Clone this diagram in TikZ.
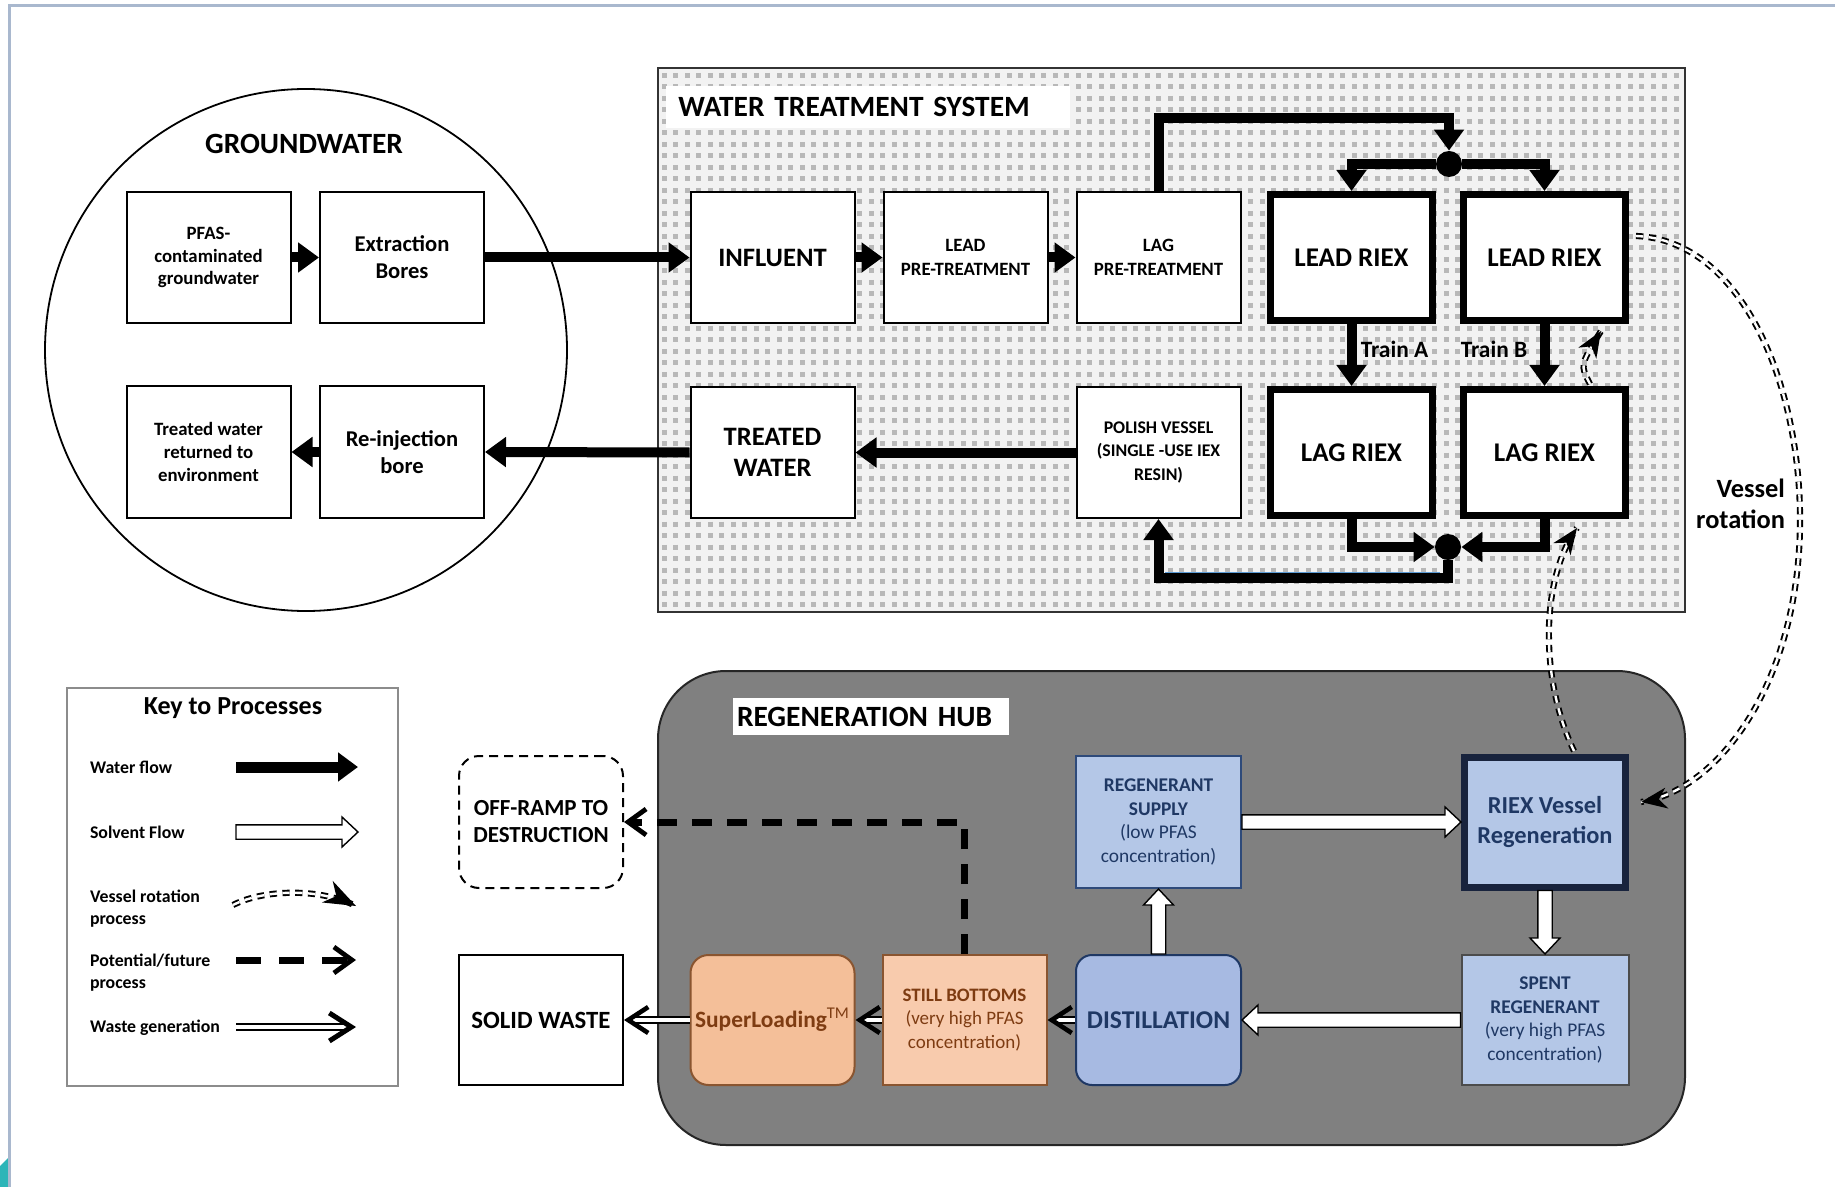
\documentclass[tikz,border=0pt]{standalone}
\usepackage{fontspec}
\setmainfont{Carlito}
\usetikzlibrary{arrows.meta,calc}
\definecolor{framec}{HTML}{A9B8CE}
\definecolor{tealc}{HTML}{2DB5B8}
\definecolor{hubgray}{HTML}{808080}
\definecolor{lblue}{HTML}{B4C7E7}
\definecolor{dblue}{HTML}{A7BAE2}
\definecolor{navy}{HTML}{1F3864}
\definecolor{regb}{HTML}{2E4A7A}
\definecolor{riexb}{HTML}{18233D}
\definecolor{peach}{HTML}{F8CBAD}
\definecolor{orng}{HTML}{F4BF99}
\definecolor{brwn}{HTML}{7E3C12}
\definecolor{brwnb}{HTML}{8A5530}
\definecolor{wtsbg}{HTML}{F2F2F2}
\definecolor{gridc}{HTML}{B8B8B8}
\definecolor{pipeblue}{HTML}{5B9BD5}
\newcommand\fsz[2]{\fontsize{#1}{#2}\selectfont}
\def\solsh{3.6pt}
\def\solhl{8pt}
\def\solhw{7.5pt}
\tikzset{
  box/.style={draw=black, line width=1pt, fill=white, minimum width=82pt, minimum height=65.5pt, inner sep=1pt, align=center, font=\bfseries},
  riexbox/.style={box, line width=3.5pt, minimum width=81pt, minimum height=63pt, font=\bfseries\fsz{13.5}{15}},
  dot/.style={circle, fill=black, minimum size=13pt, inner sep=0pt},
  water/.style={line width=5pt, -{Triangle[length=10.5pt,width=14.5pt]}},
  waste/.style={double, double distance=1.6pt, line width=1pt, -{Straight Barb[length=10pt,width=13pt,line width=2.3pt]}},
  future/.style={line width=3.5pt, dash pattern=on 10pt off 7.5pt, -{Straight Barb[length=9pt,width=13pt,line width=2.4pt]}},
  rotline/.style={double, double distance=1.2pt, line width=0.95pt, dash pattern=on 3.6pt off 2.8pt},
  rottip/.style={line width=0.8pt, -{Stealth[length=13pt,width=10.5pt,inset=4pt]}},
  solvent/.style={draw=black, fill=white, line width=0.7pt, line join=miter,
    to path={let \p1=(\tikztostart), \p2=(\tikztotarget),
      \n1={veclen(\x2-\x1,\y2-\y1)}, \n2={(\x2-\x1)/\n1}, \n3={(\y2-\y1)/\n1} in
      ({\x1-\solsh*(\n3)},{\y1+\solsh*(\n2)})
      -- ({\x2-\solhl*(\n2)-\solsh*(\n3)},{\y2-\solhl*(\n3)+\solsh*(\n2)})
      -- ({\x2-\solhl*(\n2)-\solhw*(\n3)},{\y2-\solhl*(\n3)+\solhw*(\n2)})
      -- (\p2)
      -- ({\x2-\solhl*(\n2)+\solhw*(\n3)},{\y2-\solhl*(\n3)-\solhw*(\n2)})
      -- ({\x2-\solhl*(\n2)+\solsh*(\n3)},{\y2-\solhl*(\n3)-\solsh*(\n2)})
      -- ({\x1+\solsh*(\n3)},{\y1-\solsh*(\n2)}) -- cycle}},
  lbl/.style={anchor=west, align=left, font=\bfseries\fsz{8.9}{11}},
}
\begin{document}
\begin{tikzpicture}[x=0.5pt,y=-0.5pt]
\useasboundingbox (0,0) rectangle (1835,1187);
% outer frame lines
\fill[tealc] (0,1166) -- (8,1158) -- (8,1187) -- (0,1187) -- cycle;
\draw[framec, line width=1.2pt] (9.5,1187) -- (9.5,5.5) -- (1835,5.5);

% ---------------- groundwater
\node[circle, draw=black, line width=0.9pt, minimum size=261pt, inner sep=0pt] (gw) at (306,350) {};
\node[font=\bfseries\fsz{14.7}{16}] (gwtitle) at (304,144) {GROUNDWATER};
\node[box, font=\bfseries\fsz{9.4}{11.4}] (pfas) at (208.5,257.5) {PFAS-\\contaminated\\groundwater};
\node[box, font=\bfseries\fsz{11.3}{13.5}] (extr) at (402,257.5) {Extraction\\Bores};
\node[box, font=\bfseries\fsz{9.4}{11.4}] (tenv) at (208.5,452) {Treated water\\returned to\\environment};
\node[box, font=\bfseries\fsz{11.3}{13.5}] (reinj) at (402,452) {Re-injection\\bore};

% ---------------- water treatment system
\fill[wtsbg] (658,68) rectangle (1685,612);
\foreach \gx in {664,675.5,...,1680}
  \draw[gridc, line width=2.5pt, dash pattern=on 2.5pt off 3.25pt] (\gx,73) -- (\gx,609);
\draw[black!80, line width=1pt] (658,68) rectangle (1685,612);
\node[fill=white, anchor=west, text width=190pt, align=left, minimum height=21pt, inner xsep=6pt, font=\bfseries\fsz{14.7}{16}] (wtstitle) at (666,107) {WATER TREATMENT SYSTEM};

\node[box, font=\bfseries\fsz{13.3}{15.8}] (influent) at (772.5,257.5) {INFLUENT};
\node[box, font=\bfseries\fsz{9.4}{11.7}] (leadpre) at (965.5,257.5) {LEAD\\PRE-TREATMENT};
\node[box, font=\bfseries\fsz{9.4}{11.7}] (lagpre) at (1158.5,257.5) {LAG\\PRE-TREATMENT};
\node[riexbox] (leadA) at (1351.5,257.5) {LEAD RIEX};
\node[riexbox] (leadB) at (1544.5,257.5) {LEAD RIEX};
\node[riexbox] (lagA) at (1351.5,452.5) {LAG RIEX};
\node[riexbox] (lagB) at (1544.5,452.5) {LAG RIEX};
\node[box, font=\bfseries\fsz{13.3}{15.8}] (treated) at (772.5,452.5) {TREATED\\WATER};
\node[box, font=\bfseries\fsz{8.9}{11.7}] (polish) at (1158.5,452.5) {POLISH VESSEL\\(SINGLE -USE IEX\\RESIN)};
\node[dot] (dot1) at (1449,164) {};
\node[dot] (dot2) at (1448,547) {};
\node[font=\bfseries\fsz{11.7}{13}] (trainA) at (1394.5,349) {Train A};
\node[font=\bfseries\fsz{11.7}{13}] (trainB) at (1494,349) {Train B};
\coordinate (c1) at (1449,118);
\coordinate (c2) at (1448,578);
\coordinate (bl1) at (1165,572.5);
\coordinate (bl2) at (1440,572.5);

% water flow arrows
\draw[water] (pfas.east) -- (extr.west);
\draw[water] (extr.east) -- (influent.west);
\draw[water] (influent.east) -- (leadpre.west);
\draw[water] (leadpre.east) -- (lagpre.west);
\draw[water] (lagpre.north) |- (c1) -- (dot1);
\draw[water] (dot1) -| (leadA.north);
\draw[water] (dot1) -| (leadB.north);
\draw[water] (leadA) -- (lagA);
\draw[water] (leadB) -- (lagB);
\draw[water] (lagA.south) |- (dot2);
\draw[water] (lagB.south) |- (dot2);
\draw[water] (dot2.south) -- (c2) -| (polish.south);
\draw[pipeblue, line width=0.7pt] (bl1) -- (bl2);
\draw[water] (polish.west) -- (treated.east);
\draw[water] (treated.west) -- (reinj.east);
\draw[water] (reinj.west) -- (tenv.east);

% ---------------- regeneration hub
\draw[black!85, line width=1pt, fill=hubgray, rounded corners=34pt] (658,671) rectangle (1685,1145);
\node[fill=white, text width=134pt, inner xsep=2pt, minimum height=18.5pt, align=left, font=\bfseries\fsz{14.7}{16}] (hubtitle) at (871,716.5) {REGENERATION HUB};

\node[draw=regb, line width=1pt, fill=lblue, minimum width=82.5pt, minimum height=66pt, inner sep=1pt, align=center, text=navy, font=\fsz{9.7}{11.7}] (supply) at (1158.5,822) {\textbf{REGENERANT}\\\textbf{SUPPLY}\\(low PFAS\\concentration)};
\node[draw=riexb, line width=3.5pt, fill=lblue, minimum width=80.5pt, minimum height=65pt, inner sep=1pt, align=center, text=navy, font=\bfseries\fsz{12.2}{15}] (riexregen) at (1545,822) {RIEX Vessel\\Regeneration};
\node[draw=black!70, line width=1pt, fill=lblue, minimum width=83.5pt, minimum height=65pt, inner sep=1pt, align=center, text=navy, font=\fsz{9.7}{11.7}] (spent) at (1545,1020) {\textbf{SPENT}\\\textbf{REGENERANT}\\(very high PFAS\\concentration)};
\node[draw=navy, line width=1pt, fill=dblue, rounded corners=8pt, minimum width=82.5pt, minimum height=65pt, inner sep=1pt, align=center, text=navy, font=\bfseries\fsz{12.8}{14}] (distil) at (1158.5,1020) {DISTILLATION};
\node[draw=brwnb, line width=1pt, fill=peach, minimum width=82pt, minimum height=65pt, inner sep=1pt, align=center, text=brwn, font=\fsz{9.5}{11.7}] (still) at (964.5,1020) {\textbf{STILL BOTTOMS}\\(very high PFAS\\concentration)};
\node[draw=brwnb, line width=1pt, fill=orng, rounded corners=9pt, minimum width=82pt, minimum height=65pt, inner sep=1pt, align=center, text=brwn, font=\bfseries\fsz{11.7}{13}] (superl) at (772.5,1020) {SuperLoading\textsuperscript{\mdseries TM}};
\node[draw=black, line width=1pt, dash pattern=on 4.5pt off 3pt, rounded corners=10pt, minimum width=82pt, minimum height=66pt, inner sep=1pt, align=center, font=\bfseries\fsz{11.5}{13.5}] (offramp) at (541,822) {OFF-RAMP TO\\DESTRUCTION};
\node[box, minimum height=65pt, font=\bfseries\fsz{12.4}{14}] (solid) at (541,1020) {SOLID WASTE};

\draw[solvent] (supply.east) to (riexregen.west);
\draw[solvent] (riexregen.south) to (spent.north);
\draw[solvent] (spent.west) to (distil.east);
\draw[solvent] (distil.north) to (supply.south);
\draw[waste] (distil.west) -- (still.east);
\draw[waste] (still.west) -- (superl.east);
\draw[waste] (superl.west) -- (solid.east);
\draw[future] (still.north) |- (offramp.east);

% ---------------- legend
\node[draw=black!45, line width=0.8pt, minimum width=165.5pt, minimum height=199pt, inner sep=0pt] (legend) at (232.5,887) {};
\node[font=\bfseries\fsz{13}{15}] (keytitle) at (233,708) {Key to Processes};
\node[lbl] (lab1) at (83,767) {Water flow};
\node[lbl] (lab2) at (83,832) {Solvent Flow};
\node[lbl] (lab3) at (83,909) {Vessel rotation\\process};
\node[lbl] (lab4) at (83,973) {Potential/future\\process};
\node[lbl] (lab5) at (83,1028) {Waste generation};
\coordinate (k1a) at (236,767); \coordinate (k1b) at (358,767);
\coordinate (k2a) at (236,832); \coordinate (k2b) at (358,832);
\coordinate (k3a) at (233,905); \coordinate (k3b) at (356,906);
\coordinate (k3c) at (318,887);
\coordinate (k4a) at (236,960); \coordinate (k4b) at (356,960);
\coordinate (k5a) at (236,1027); \coordinate (k5b) at (356,1027);
\draw[water, line width=5.5pt, -{Triangle[length=10pt,width=14pt]}] (k1a) -- (k1b);
\draw[solvent] (k2a) to (k2b);
\draw[rotline] (k3a) .. controls (262,890) and (k3c) .. (k3b);
\draw[rottip, -{Stealth[length=16pt,width=12pt,inset=5pt]}] ($(k3b)!5pt!(k3c)$) -- (k3b);
\draw[future, dash pattern=on 12.5pt off 9pt] (k4a) -- (k4b);
\draw[waste, -{Straight Barb[length=11pt,width=14pt,line width=2.5pt]}] (k5a) -- (k5b);

% ---------------- vessel rotation connectors
\coordinate (r1s) at (1636,236);
\coordinate (r1e) at (1641,802);
\coordinate (r1c) at (1720,790);
\coordinate (r2s) at (1574,751);
\coordinate (r2e) at (1577,528);
\coordinate (r2c) at (1540,580);
\coordinate (r3s) at (1590,384);
\coordinate (r3e) at (1601,331);
\coordinate (r3c) at (1580,365);
\draw[rotline] (r1s) .. controls (1740,240) and (1800,380) .. (1800,520) .. controls (1800,680) and (r1c) .. (r1e);
\draw[rottip] ($(r1e)!5pt!(r1c)$) -- (r1e);
\draw[rotline] (r2s) .. controls (1540,680) and (r2c) .. (r2e);
\draw[rottip] ($(r2e)!5pt!(r2c)$) -- (r2e);
\draw[rotline] (r3s) .. controls (r3c) .. (r3e);
\draw[rottip] ($(r3e)!5pt!(r3c)$) -- (r3e);
\node[align=right, anchor=east, font=\bfseries\fsz{13.2}{15.8}] (vrlab) at (1792,504) {Vessel\\rotation};
\end{tikzpicture}
\end{document}
